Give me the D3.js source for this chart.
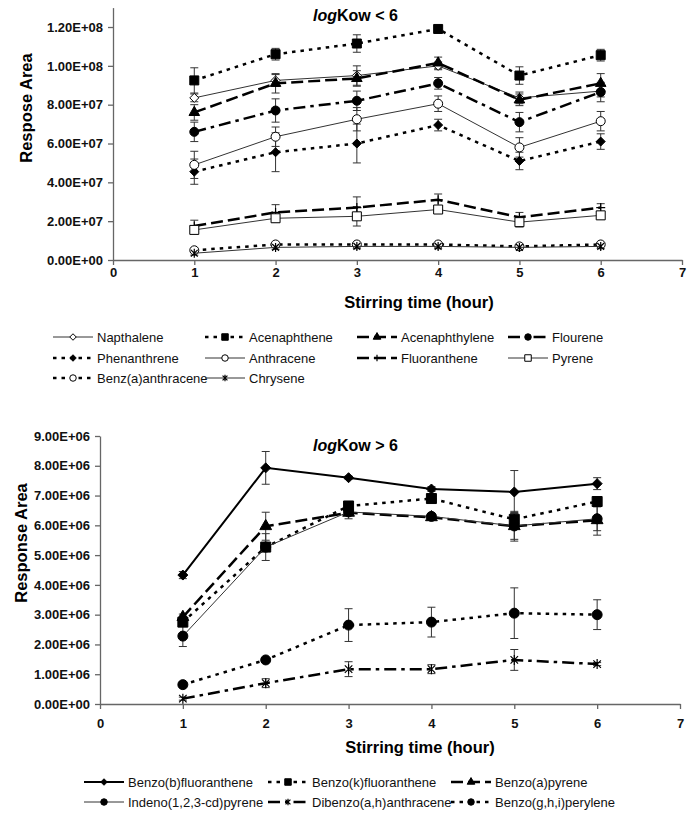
<!DOCTYPE html>
<html>
<head>
<meta charset="utf-8">
<script src="https://cdn.jsdelivr.net/npm/d3@7"></script>
<style>
  body { margin: 0; background: #fff; }
  svg { display: block; font-family: Arial, "Liberation Sans", sans-serif; }
</style>
</head>
<body>
<div id="chart"></div>
<script>
// ---- data ----
const hours = [1, 2, 3, 4, 5, 6];
const xTicks = [0, 1, 2, 3, 4, 5, 6, 7];
const yTicksTop = [0, 2e7, 4e7, 6e7, 8e7, 1e8, 1.2e8];
const yTicksBottom = [0, 1e6, 2e6, 3e6, 4e6, 5e6, 6e6, 7e6, 8e6, 9e6];

// logKow < 6
const napthalene       = [8.35e7, 9.25e7, 9.5e7, 1.0e8, 8.35e7, 8.7e7];
const napthaleneErr    = [0.2e7, 0.3e7, 0.5e7, 0.2e7, 0.3e7, 0.3e7];
const acenaphthene     = [9.25e7, 1.06e8, 1.115e8, 1.19e8, 9.5e7, 1.055e8];
const acenaphtheneErr  = [0.65e7, 0.3e7, 0.45e7, 0.15e7, 0.45e7, 0.3e7];
const acenaphthylene   = [7.6e7, 9.1e7, 9.35e7, 1.015e8, 8.25e7, 9.1e7];
const acenaphthyleneErr= [0.4e7, 0.5e7, 0.4e7, 0.3e7, 0.3e7, 0.5e7];
const flourene         = [6.6e7, 7.7e7, 8.2e7, 9.1e7, 7.1e7, 8.65e7];
const floureneErr      = [0.5e7, 0.6e7, 0.5e7, 0.3e7, 0.5e7, 0.5e7];
const phenanthrene     = [4.55e7, 5.55e7, 6.0e7, 6.95e7, 5.1e7, 6.1e7];
const phenanthreneErr  = [0.65e7, 1.0e7, 1.0e7, 0.3e7, 0.45e7, 0.4e7];
const anthracene       = [4.9e7, 6.35e7, 7.25e7, 8.05e7, 5.8e7, 7.15e7];
const anthraceneErr    = [0.7e7, 0.5e7, 0.6e7, 0.4e7, 0.5e7, 0.5e7];
const fluoranthene     = [1.75e7, 2.45e7, 2.7e7, 3.1e7, 2.2e7, 2.7e7];
const fluorantheneErr  = [0.3e7, 0.4e7, 0.55e7, 0.3e7, 0.25e7, 0.2e7];
const pyrene           = [1.55e7, 2.15e7, 2.25e7, 2.6e7, 1.95e7, 2.3e7];
const pyreneErr        = [0.2e7, 0.2e7, 0.5e7, 0.2e7, 0.25e7, 0.2e7];
const benzAnthracene   = [0.5e7, 0.8e7, 0.8e7, 0.8e7, 0.7e7, 0.8e7];
const benzAnthraceneErr= [0.1e7, 0.1e7, 0.1e7, 0.1e7, 0.1e7, 0.1e7];
const chrysene         = [0.35e7, 0.65e7, 0.7e7, 0.7e7, 0.65e7, 0.7e7];
const chryseneErr      = [0.1e7, 0.1e7, 0.1e7, 0.1e7, 0.1e7, 0.1e7];

// logKow > 6
const benzoBF       = [4.33e6, 7.93e6, 7.6e6, 7.22e6, 7.12e6, 7.4e6];
const benzoBFErr    = [0.12e6, 0.55e6, 0.05e6, 0.08e6, 0.72e6, 0.2e6];
const benzoKF       = [2.75e6, 5.27e6, 6.65e6, 6.9e6, 6.2e6, 6.8e6];
const benzoKFErr    = [0.15e6, 0.45e6, 0.1e6, 0.1e6, 0.2e6, 0.1e6];
const benzoAP       = [2.92e6, 5.97e6, 6.42e6, 6.27e6, 5.97e6, 6.17e6];
const benzoAPErr    = [0.1e6, 0.47e6, 0.2e6, 0.05e6, 0.5e6, 0.5e6];
const indeno        = [2.28e6, 5.27e6, 6.45e6, 6.3e6, 5.98e6, 6.22e6];
const indenoErr     = [0.35e6, 0.1e6, 0.1e6, 0.05e6, 0.45e6, 0.4e6];
const dibenzo       = [0.18e6, 0.7e6, 1.17e6, 1.17e6, 1.48e6, 1.34e6];
const dibenzoErr    = [0.05e6, 0.15e6, 0.25e6, 0.15e6, 0.35e6, 0.05e6];
const benzoGHI      = [0.65e6, 1.48e6, 2.65e6, 2.75e6, 3.05e6, 3.0e6];
const benzoGHIErr   = [0.05e6, 0.05e6, 0.55e6, 0.5e6, 0.85e6, 0.5e6];

// line styles
const styles = {
  thin:     { w: 1,   dash: null,         color: "#333" },
  solid:    { w: 2,   dash: null,         color: "#000" },
  dotted:   { w: 2.5, dash: "3.5,5",      color: "#000" },
  longdash: { w: 2.5, dash: "12,5",       color: "#000" },
  dashdot:  { w: 2.5, dash: "12,5,3.5,5", color: "#000" }
};

const topSeries = [
  { name: "Napthalene",        v: napthalene,     e: napthaleneErr,     s: "thin",     m: "diamond",  open: true },
  { name: "Acenaphthene",      v: acenaphthene,   e: acenaphtheneErr,   s: "dotted",   m: "square" },
  { name: "Acenaphthylene",    v: acenaphthylene, e: acenaphthyleneErr, s: "longdash", m: "triangle" },
  { name: "Flourene",          v: flourene,       e: floureneErr,      s: "dashdot",  m: "circle" },
  { name: "Phenanthrene",      v: phenanthrene,   e: phenanthreneErr,   s: "dotted",   m: "diamond" },
  { name: "Anthracene",        v: anthracene,     e: anthraceneErr,     s: "thin",     m: "circle",   open: true },
  { name: "Fluoranthene",      v: fluoranthene,   e: fluorantheneErr,   s: "longdash", m: "plus" },
  { name: "Pyrene",            v: pyrene,         e: pyreneErr,         s: "thin",     m: "square",   open: true },
  { name: "Benz(a)anthracene", v: benzAnthracene, e: benzAnthraceneErr, s: "dotted",   m: "circle",   open: true },
  { name: "Chrysene",          v: chrysene,       e: chryseneErr,       s: "thin",     m: "star" }
];

const bottomSeries = [
  { name: "Benzo(b)fluoranthene",   v: benzoBF,  e: benzoBFErr,  s: "solid",    m: "diamond" },
  { name: "Benzo(k)fluoranthene",   v: benzoKF,  e: benzoKFErr,  s: "dotted",   m: "square" },
  { name: "Benzo(a)pyrene",         v: benzoAP,  e: benzoAPErr,  s: "longdash", m: "triangle" },
  { name: "Indeno(1,2,3-cd)pyrene", v: indeno,   e: indenoErr,   s: "thin",     m: "circle" },
  { name: "Dibenzo(a,h)anthracene", v: dibenzo,  e: dibenzoErr,  s: "dashdot",  m: "star" },
  { name: "Benzo(g,h,i)perylene",   v: benzoGHI, e: benzoGHIErr, s: "dotted",   m: "circle" }
];

// ---- drawing ----
const W = 696, H = 817;
const svg = d3.select("#chart").append("svg").attr("width", W).attr("height", H);
svg.append("rect").attr("width", W).attr("height", H).attr("fill", "#fff");

function sci(v) {
  const [m, e] = v.toExponential(2).split("e");
  return m + "E" + e[0] + e.slice(1).padStart(2, "0");
}

function markerPath(type, size) {
  const h = size / 2;
  if (type === "diamond") return `M0,${-h}L${h},0L0,${h}L${-h},0Z`;
  if (type === "square") return d3.symbol(d3.symbolSquare, size * size)();
  if (type === "circle") return d3.symbol(d3.symbolCircle, Math.PI * h * h)();
  if (type === "triangle") return d3.symbol(d3.symbolTriangle, size * size * 0.6)();
  if (type === "plus") return `M${-h},0H${h}M0,${-h}V${h}`;
  if (type === "star") {
    const d = h * 0.75;
    return `M${-d},${-d}L${d},${d}M${-d},${d}L${d},${-d}M0,${-h}V${h}`;
  }
  return "";
}

function drawMarker(g, x, y, sr, size) {
  const line = sr.m === "plus" || sr.m === "star";
  g.append("path")
    .attr("d", markerPath(sr.m, size))
    .attr("transform", `translate(${x},${y})`)
    .attr("fill", line ? "none" : (sr.open ? "#fff" : "#000"))
    .attr("stroke", "#000")
    .attr("stroke-width", line ? 1.2 : 1);
}

function drawPanel(cfg) {
  const x = d3.scaleLinear().domain([0, 7]).range(cfg.xr);
  const y = d3.scaleLinear().domain([0, cfg.ymax]).range(cfg.yr);
  const g = svg.append("g");

  const xAxis = g.append("g")
    .attr("transform", `translate(0,${cfg.yr[0]})`)
    .call(d3.axisBottom(x).tickValues(xTicks).tickFormat(d3.format("d"))
      .tickSize(5).tickSizeOuter(0).tickPadding(cfg.xPad));
  const yAxis = g.append("g")
    .attr("transform", `translate(${cfg.xr[0]},0)`)
    .call(d3.axisLeft(y).tickValues(cfg.yTicks).tickFormat(sci).tickSize(5).tickSizeOuter(0).tickPadding(5));
  [xAxis, yAxis].forEach(a => {
    a.select(".domain").attr("stroke", "#666").attr("stroke-width", 1.3);
    a.selectAll(".tick line").attr("stroke", "#666").attr("stroke-width", 1.3);
    a.selectAll("text").attr("font-size", 13).attr("font-weight", "bold")
      .attr("fill", "#111").attr("font-family", "Arial, 'Liberation Sans', sans-serif");
  });

  // error bars
  const eg = g.append("g").attr("stroke", "#333").attr("stroke-width", 1);
  cfg.series.forEach(sr => {
    hours.forEach((hh, i) => {
      const cx = x(hh), y1 = y(sr.v[i] + sr.e[i]), y0 = y(sr.v[i] - sr.e[i]);
      eg.append("line").attr("x1", cx).attr("x2", cx).attr("y1", y1).attr("y2", y0);
      eg.append("line").attr("x1", cx - 4).attr("x2", cx + 4).attr("y1", y1).attr("y2", y1);
      eg.append("line").attr("x1", cx - 4).attr("x2", cx + 4).attr("y1", y0).attr("y2", y0);
    });
  });

  // lines and markers
  const line = d3.line().x(d => x(d[0])).y(d => y(d[1]));
  cfg.series.forEach(sr => {
    const st = styles[sr.s];
    g.append("path")
      .attr("d", line(hours.map((hh, i) => [hh, sr.v[i]])))
      .attr("fill", "none")
      .attr("stroke", st.color)
      .attr("stroke-width", st.w)
      .attr("stroke-dasharray", st.dash);
    hours.forEach((hh, i) => drawMarker(g, x(hh), y(sr.v[i]), sr, cfg.mSize));
  });

  // title
  const t = g.append("text").attr("x", cfg.title[0]).attr("y", cfg.title[1])
    .attr("font-size", 16).attr("font-weight", "bold").attr("fill", "#000");
  t.append("tspan").attr("font-style", "italic").text("log");
  t.append("tspan").text(cfg.titleText);

  // axis titles
  g.append("text").attr("transform", `translate(${cfg.yLab[0]},${cfg.yLab[1]}) rotate(-90)`)
    .attr("text-anchor", "middle").attr("dominant-baseline", "central")
    .attr("font-size", 16.5).attr("font-weight", "bold").attr("fill", "#000").text(cfg.yLabText);
  g.append("text").attr("x", cfg.xLab[0]).attr("y", cfg.xLab[1])
    .attr("text-anchor", "middle").attr("font-size", 16.5).attr("font-weight", "bold")
    .attr("fill", "#000").text("Stirring time (hour)");

  // legend
  cfg.series.forEach((sr, i) => {
    const lx = cfg.legCols[i % cfg.legCols.length];
    const ly = cfg.legRows[Math.floor(i / cfg.legCols.length)];
    const st = styles[sr.s];
    const lg = svg.append("g");
    lg.append("line").attr("x1", lx).attr("x2", lx + 40).attr("y1", ly).attr("y2", ly)
      .attr("stroke", st.color).attr("stroke-width", st.w).attr("stroke-dasharray", st.dash);
    drawMarker(lg, lx + 20, ly, sr, 6.5);
    lg.append("text").attr("x", lx + 44).attr("y", ly).attr("dominant-baseline", "central")
      .attr("font-size", 13).attr("fill", "#111").text(sr.name);
  });
}

drawPanel({
  series: topSeries, xr: [113, 682], yr: [260, 7.6], ymax: 1.3e8, yTicks: yTicksTop,
  xPad: 3, mSize: 9, title: [313, 21], titleText: "Kow < 6",
  yLab: [26, 108], yLabText: "Respose Area", xLab: [419, 308],
  legCols: [53, 205, 357, 508], legRows: [337, 358, 378]
});

drawPanel({
  series: bottomSeries, xr: [100, 680], yr: [704, 436], ymax: 9e6, yTicks: yTicksBottom,
  xPad: 10, mSize: 10, title: [313, 451], titleText: "Kow > 6",
  yLab: [21, 543], yLabText: "Response Area", xLab: [420, 753],
  legCols: [84, 268, 451], legRows: [782, 802]
});
</script>
</body>
</html>
